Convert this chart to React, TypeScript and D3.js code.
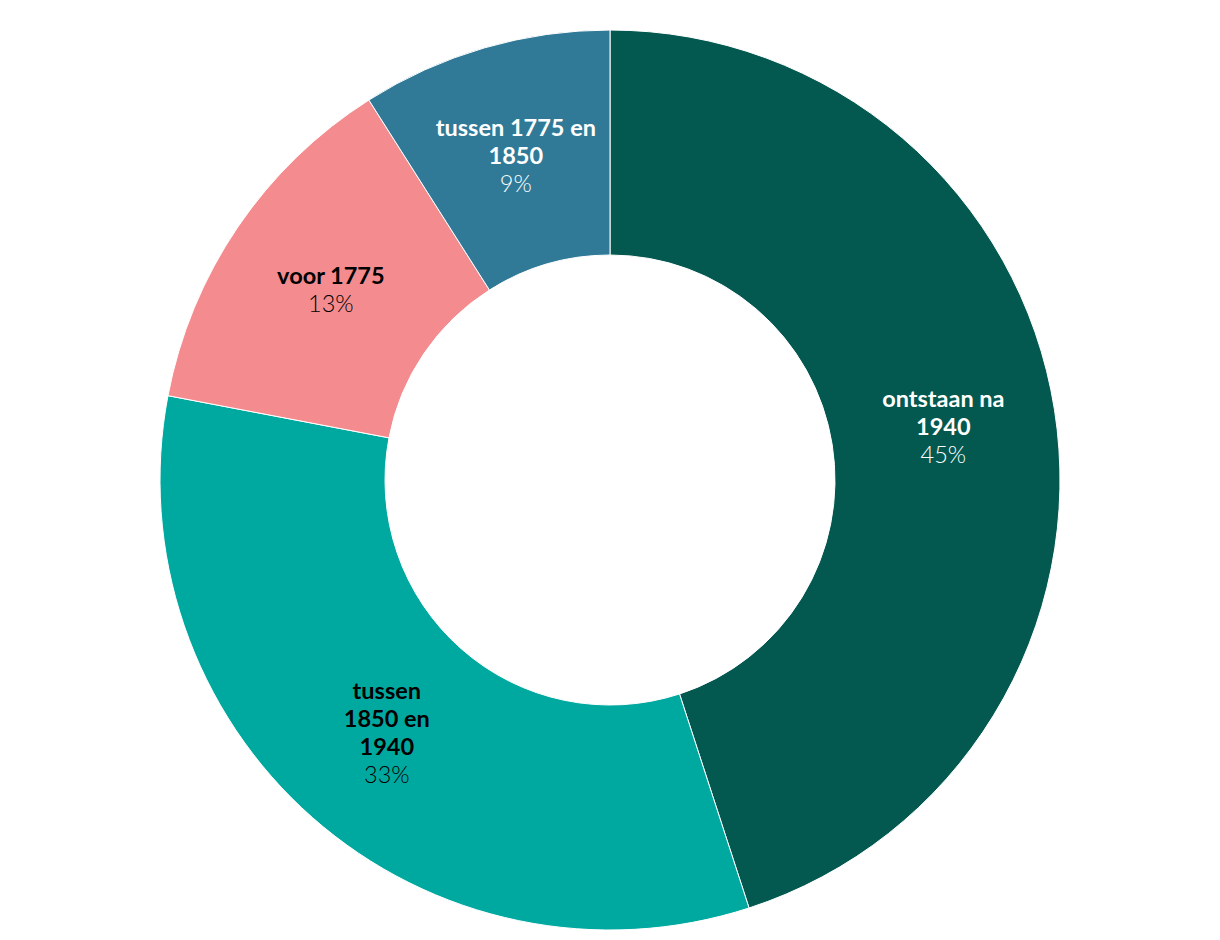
import React from "react";
import * as d3 from "d3";

const categories = ["ontstaan na 1940", "tussen 1850 en 1940", "voor 1775", "tussen 1775 en 1850"];
const labelLines = [["ontstaan na", "1940"], ["tussen", "1850 en", "1940"], ["voor 1775"], ["tussen 1775 en", "1850"]];
const values = [45, 33, 13, 9];
const colors = ["#03594F", "#00A9A0", "#F48C8F", "#307A98"];
const textColors = ["#ffffff", "#000000", "#000000", "#ffffff"];

export default function App() {
  const width = 1220, height = 940;
  const cx = 610, cy = 480;
  const outerR = 450, innerR = 225;
  const pie = d3.pie<number>().sort(null).value((d) => d);
  const arcs = pie(values);
  const arc = d3.arc<d3.PieArcDatum<number>>().innerRadius(innerR).outerRadius(outerR);
  const lineH = 28;
  return (
    <svg width={width} height={height} style={{ position: "absolute", left: 0, top: 0 }}
      fontFamily="Lato, 'Open Sans', sans-serif">
      <g transform={`translate(${cx},${cy})`}>
        {arcs.map((a, i) => (
          <path key={categories[i]} d={arc(a) || ""} fill={colors[i]} stroke="#ffffff" strokeWidth={1} />
        ))}
        {arcs.map((a, i) => {
          const [x, y] = arc.centroid(a);
          const lines = labelLines[i];
          const n = lines.length + 1;
          const y0 = y - ((n - 1) * lineH) / 2 - 1;
          return (
            <text key={"l" + i} x={x} y={y0} textAnchor="middle" dominantBaseline="central"
              fill={textColors[i]} fontSize={23.5}>
              {lines.map((ln, j) => (
                <tspan key={j} x={x} y={y0 + j * lineH} fontWeight={700}>{ln}</tspan>
              ))}
              <tspan x={x} y={y0 + lines.length * lineH} fontWeight={300}>{values[i]}%</tspan>
            </text>
          );
        })}
      </g>
    </svg>
  );
}
